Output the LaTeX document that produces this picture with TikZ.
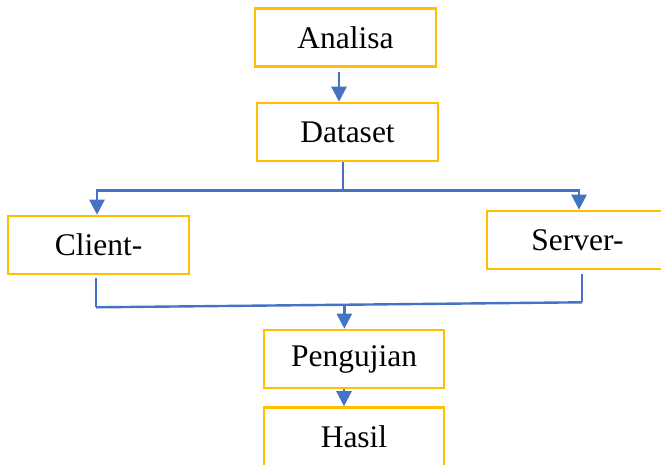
\documentclass[tikz,border=0pt]{standalone}
\usepackage{fontspec}
\setmainfont{Liberation Serif}
\usepackage{tikz}
\usetikzlibrary{positioning, arrows.meta, calc}
\definecolor{boxgold}{HTML}{FFC000}
\definecolor{flowblue}{HTML}{4472C4}

\begin{document}
\begin{tikzpicture}[x=1pt, y=-1pt,
	box/.style={rectangle, draw=boxgold, line width=2.6pt, minimum width=181pt,
	minimum height=58pt, inner sep=0pt, font=\fontsize{31.5}{37}\selectfont},
	flow/.style={draw=flowblue, line width=2.4pt},
	flowarrow/.style={flow, -{Triangle[length=15pt, width=15pt]}}]
	\useasboundingbox (0,0) rectangle (661,464);
	
	\node[box] (analisa) at (345.5,37.5) {Analisa};
	\node[box] (dataset) at ($(analisa) + (2,94.5)$) {Dataset};
	
	% Client and server
	\node[box] (client) at ($(analisa) + (-247,207.5)$) {Client-};
	\node[box] (server) at ($(analisa) + (232,202.5)$) {Server-};
	
	% Testing and result
	\node[box, minimum width=180pt] (pengujian) at ($(analisa) + (8.5,321.5)$) {Pengujian};
	\node[box, minimum width=180pt, minimum height=66pt] (hasil) at ($(analisa) + (8.5,403)$) {};
	\node[font=\fontsize{31.5}{37}\selectfont] (hasiltext) at ($(analisa) + (8.5,399)$) {Hasil};
	
	% Connections
	\coordinate (a1) at ([xshift=-6.5pt, yshift=-4pt]analisa.south);
	\draw[flowarrow] (a1) -- (a1 |- dataset.north);
	
	\draw[flow] ([xshift=-4.5pt]dataset.south) -- ++(0,28) coordinate (split);
	\draw[flowarrow] (split) -| ([xshift=-1.5pt]client.north);
	\draw[flowarrow] (split) -| ([xshift=1.5pt]server.north);
	
	\draw[flow] ([xshift=-2.5pt, yshift=-3pt]client.south) -- ++(0,29) coordinate (cjoin);
	\draw[flow] ([xshift=4.5pt, yshift=-4pt]server.south) -- ++(0,28) coordinate (sjoin);
	\draw[flow] (cjoin) -- (sjoin);
	\coordinate (merge) at ($(cjoin)!0.511!(sjoin)$);
	\draw[flowarrow] (merge) -- (merge |- pengujian.north);
	
	\draw[flowarrow] ([xshift=-10pt]pengujian.south) -- ([xshift=-10pt]hasil.north);
\end{tikzpicture}
\end{document}
